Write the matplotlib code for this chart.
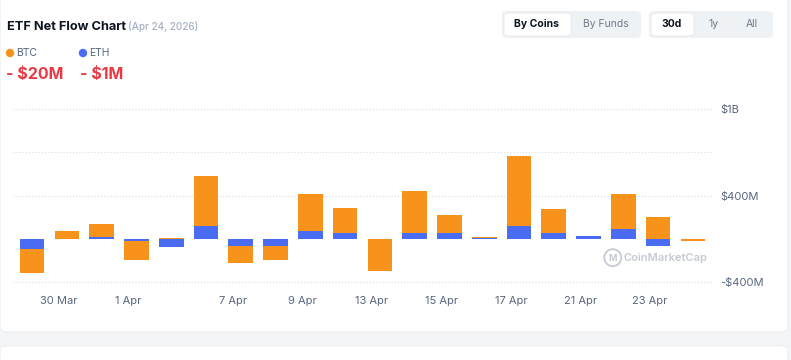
import numpy as np
import matplotlib
matplotlib.use("Agg")
import matplotlib.pyplot as plt
from matplotlib.patches import FancyBboxPatch, Ellipse

# trading days shown on the chart (Good Friday Apr 3 closed)
dates = ["27 Mar", "30 Mar", "31 Mar", "1 Apr", "2 Apr", "6 Apr", "7 Apr", "8 Apr",
         "9 Apr", "10 Apr", "13 Apr", "14 Apr", "15 Apr", "16 Apr", "17 Apr",
         "20 Apr", "21 Apr", "22 Apr", "23 Apr", "24 Apr"]
# net flows in $M
btc = [-218, 67, 117, -175, 8, 466, -153, -123, 337, 233, -291, 390, 163, 12, 644,
       227, 3, 316, 206, -20]
eth = [-92, 2, 21, -15, -74, 117, -67, -67, 74, 52, -2, 52, 58, 10, 117,
       52, 25, 95, -67, -1]
shown_labels = ["30 Mar", "1 Apr", "7 Apr", "9 Apr", "13 Apr", "15 Apr", "17 Apr",
                "21 Apr", "23 Apr"]
yticks = [-400, 0, 400, 800, 1200]
ylabels = ["-$400M", "", "$400M", "", "$1B"]

ORANGE = "#F7931A"
BLUE = "#4A6CF2"
GRAY_TXT = "#58667E"

plt.rcParams['font.family'] = ['Inter', 'DejaVu Sans']

fig = plt.figure(figsize=(7.91, 3.6), dpi=100)
fig.patch.set_facecolor("#F4F5F7")

# white cards behind everything
card = FancyBboxPatch((0, 28 / 360), 788 / 791, 1.0, boxstyle="round,pad=0,rounding_size=0.012",
                      transform=fig.transFigure, facecolor="white", edgecolor="#ECEEF1",
                      linewidth=0.8, zorder=-5)
fig.patches.append(card)
card2 = FancyBboxPatch((0, -0.1), 788 / 791, 0.14, boxstyle="round,pad=0,rounding_size=0.012",
                       transform=fig.transFigure, facecolor="white", edgecolor="#ECEEF1",
                       linewidth=0.8, zorder=-5)
fig.patches.append(card2)

ax = fig.add_axes([13 / 791, 70 / 360, 699 / 791, 190 / 360])
ax.set_facecolor("none")
ax.set_zorder(2)

x = np.arange(len(dates))
btc = np.array(btc, dtype=float)
eth = np.array(eth, dtype=float)

# stack: eth next to zero, btc on top of it when same sign
btc_bottom = np.where(np.sign(btc) == np.sign(eth), eth, 0)
w = 0.71
ax.bar(x, eth, width=w, color=BLUE, zorder=3)
ax.bar(x, btc, width=w, bottom=btc_bottom, color=ORANGE, zorder=3)

ax.set_xlim(-0.55, len(dates) - 0.45)
ax.set_ylim(-470, 1280)

for yv in yticks:
    if yv != 0:
        ax.axhline(yv, color="#DDE1E6", linestyle=(0, (1, 1.5)), linewidth=0.9, zorder=1)

ax.yaxis.tick_right()
ax.set_yticks(yticks)
ax.set_yticklabels(ylabels, color=GRAY_TXT, fontsize=8)
ax.tick_params(axis="y", length=0, pad=6)

tick_pos = [dates.index(d) - 0.23 for d in shown_labels]
ax.set_xticks(tick_pos)
ax.set_xticklabels(shown_labels, color=GRAY_TXT, fontsize=8)
ax.tick_params(axis="x", length=0, pad=4)

for s in ax.spines.values():
    s.set_visible(False)

# watermark
ax.add_patch(Ellipse((0.858, 0.17), 17 / 699, 17 / 190, transform=ax.transAxes, fill=False,
                     edgecolor="#C6CAD2", linewidth=1.3, zorder=2))
ax.text(0.858, 0.165, "M", transform=ax.transAxes, color="#C6CAD2",
        fontsize=6.5, fontweight="bold", va="center", ha="center", zorder=2)
ax.text(0.873, 0.17, "CoinMarketCap", transform=ax.transAxes, color="#C6CAD2",
        fontsize=8, fontweight="semibold", va="center", ha="left", zorder=2)

# header
fig.text(7 / 791, 1 - 27 / 360, "ETF Net Flow Chart", fontsize=9.2, fontweight="bold",
         color="#0D1421", va="center")
fig.text(128 / 791, 1 - 27 / 360, "(Apr 24, 2026)", fontsize=7.2, color="#A6B0C3",
         va="center", fontweight="medium")

# legend values
fig.patches.append(Ellipse((10 / 791, 1 - 53 / 360), 7 / 791, 7 / 360,
                           transform=fig.transFigure, color=ORANGE))
fig.text(16 / 791, 1 - 53 / 360, "BTC", fontsize=7.5, color=GRAY_TXT, va="center")
fig.patches.append(Ellipse((83 / 791, 1 - 53 / 360), 7 / 791, 7 / 360,
                           transform=fig.transFigure, color=BLUE))
fig.text(89 / 791, 1 - 53 / 360, "ETH", fontsize=7.5, color=GRAY_TXT, va="center")
fig.text(6 / 791, 1 - 74 / 360, "- $20M", fontsize=11.5, fontweight="bold", color="#EA3943",
         va="center")
fig.text(80 / 791, 1 - 74 / 360, "- $1M", fontsize=11.5, fontweight="bold", color="#EA3943",
         va="center")


def pill(x0, y0, wpx, hpx, face, edge="none"):
    p = FancyBboxPatch((x0 / 791, 1 - (y0 + hpx) / 360), wpx / 791, hpx / 360,
                       boxstyle="round,pad=0,rounding_size=0.008", transform=fig.transFigure,
                       facecolor=face, edgecolor=edge, linewidth=0.6)
    fig.patches.append(p)


pill(502, 11, 139, 27, "#EFF2F5")
pill(504, 13, 67, 23, "white", "#E6E9ED")
fig.text(537 / 791, 1 - 24 / 360, "By Coins", fontsize=7.5, fontweight="bold",
         color="#0D1421", ha="center", va="center")
fig.text(606 / 791, 1 - 24 / 360, "By Funds", fontsize=7.5, color="#707A8A",
         ha="center", va="center")
pill(649, 11, 124, 27, "#EFF2F5")
pill(651, 13, 43, 23, "white", "#E6E9ED")
fig.text(672 / 791, 1 - 24 / 360, "30d", fontsize=7.5, fontweight="bold",
         color="#0D1421", ha="center", va="center")
fig.text(714 / 791, 1 - 24 / 360, "1y", fontsize=7.5, color="#707A8A",
         ha="center", va="center")
fig.text(752 / 791, 1 - 24 / 360, "All", fontsize=7.5, color="#707A8A",
         ha="center", va="center")

fig.savefig("out.png", dpi=100)
